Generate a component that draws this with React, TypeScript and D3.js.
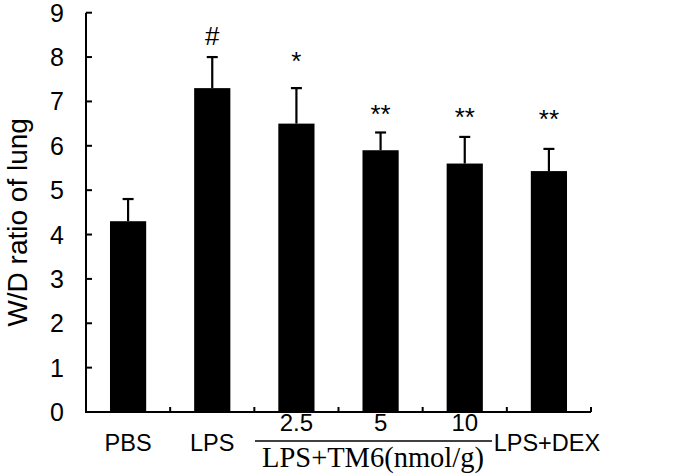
import React from "react";
import * as d3 from "d3";

const categories = ["PBS", "LPS", "2.5", "5", "10", "LPS+DEX"];
const means = [4.3, 7.3, 6.5, 5.9, 5.6, 5.43];
const errors = [0.5, 0.7, 0.8, 0.4, 0.6, 0.5];
const marks = ["", "#", "*", "**", "**", "**"];
const markLevels = [0, 8.27, 7.71, 6.52, 6.45, 6.39];
const yTicks = [0, 1, 2, 3, 4, 5, 6, 7, 8, 9];
const groupLabel = "LPS+TM6(nmol/g)";
const yLabel = "W/D ratio of lung";

export default function App() {
  const W = 675, H = 474;
  const left = 86, right = 591, top = 12.7, bottom = 412;
  const xb = d3.scaleBand<string>().domain(categories).range([left, right]);
  const y = d3.scaleLinear().domain([0, 9]).range([bottom, top]);
  const bw = xb.bandwidth() * 0.43;
  const font = "Arial, 'Liberation Sans', sans-serif";
  const serif = "'Times New Roman', 'Liberation Serif', serif";
  const xc = (c: string) => (xb(c) as number) + xb.bandwidth() / 2;
  return (
    <svg width={W} height={H} style={{ position: "absolute", left: 0, top: 0, background: "#fff" }}>
      <rect x={0} y={0} width={W} height={H} fill="#fff" />
      {categories.map((c, i) => {
        const cx = xc(c);
        const et = y(means[i] + errors[i]);
        return (
          <g key={c}>
            <line x1={cx} x2={cx} y1={y(means[i])} y2={et} stroke="#000" strokeWidth={2.2} />
            <line x1={cx - 5.5} x2={cx + 5.5} y1={et} y2={et} stroke="#000" strokeWidth={2.2} />
            <rect x={cx - bw / 2} y={y(means[i])} width={bw} height={bottom - y(means[i])} fill="#000" />
            {marks[i] && (
              <text x={cx} y={y(markLevels[i])} textAnchor="middle" fontFamily={font} fontSize={26} fill="#000">{marks[i]}</text>
            )}
          </g>
        );
      })}
      <line x1={left} x2={left} y1={top} y2={bottom + 1} stroke="#000" strokeWidth={2} />
      {yTicks.map((t) => (
        <g key={t}>
          <line x1={left} x2={left + 6} y1={y(t)} y2={y(t)} stroke="#000" strokeWidth={2} />
          <text x={64} y={y(t) + 9} textAnchor="end" fontFamily={font} fontSize={25} fill="#000">{t}</text>
        </g>
      ))}
      <line x1={left - 1} x2={right} y1={bottom} y2={bottom} stroke="#000" strokeWidth={2} />
      {categories.map((c) => (
        <line key={"t" + c} x1={(xb(c) as number) + xb.bandwidth()} x2={(xb(c) as number) + xb.bandwidth()} y1={bottom} y2={bottom - 5} stroke="#000" strokeWidth={2} />
      ))}
      {categories.map((c, i) => {
        const sub = i >= 2 && i <= 4;
        return (
          <text key={"l" + c} x={xc(c) + (i === 5 ? -2 : 0)} y={sub ? 431 : 451} textAnchor="middle" fontFamily={font} fontSize={sub ? 24 : 23.5} fill="#000">{c}</text>
        );
      })}
      <line x1={255} x2={492} y1={441} y2={441} stroke="#000" strokeWidth={1.5} />
      <text x={373} y={467} textAnchor="middle" fontFamily={serif} fontSize={28.5} fill="#000">{groupLabel}</text>
      <text transform={`translate(27,${(top + bottom) / 2 + 10}) rotate(-90)`} textAnchor="middle" fontFamily={font} fontSize={28} fill="#000">{yLabel}</text>
    </svg>
  );
}
